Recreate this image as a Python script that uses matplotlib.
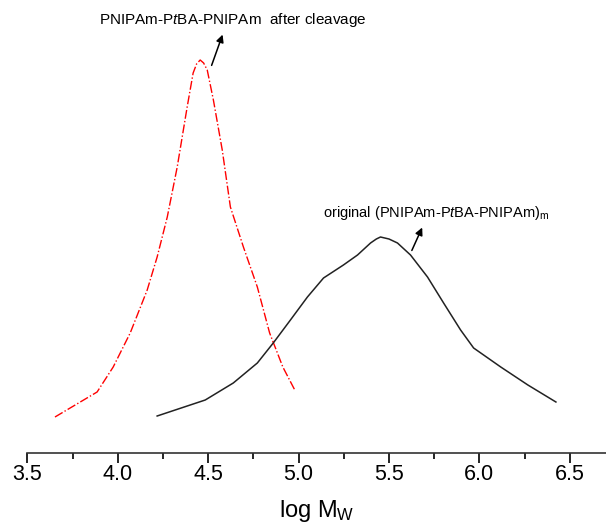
import matplotlib
matplotlib.use("Agg")
import matplotlib.pyplot as plt

plt.rcParams['font.family'] = 'Liberation Sans'
plt.rcParams['mathtext.fontset'] = 'custom'
plt.rcParams['mathtext.rm'] = 'Liberation Sans'
plt.rcParams['mathtext.it'] = 'Liberation Sans:italic'

# after cleavage (red dash-dot)
cleaved_x = [3.653, 3.886, 3.975, 4.069, 4.163, 4.218, 4.274, 4.329, 4.384, 4.417,
             4.436, 4.456, 4.475, 4.495, 4.529, 4.578, 4.623, 4.695, 4.772, 4.840,
             4.913, 4.979]
cleaved_y = [36, 61, 86, 120, 163, 196, 236, 286, 346, 380,
             389, 393, 390, 383, 353, 303, 246, 206, 166, 120,
             86, 63]

# original multiblock (black)
orig_x = [4.218, 4.484, 4.639, 4.772, 4.860, 4.955, 5.049, 5.138, 5.248, 5.326,
          5.398, 5.430, 5.453, 5.500, 5.547, 5.619, 5.713, 5.802, 5.896, 5.968,
          6.118, 6.268, 6.423]
orig_y = [37, 53, 70, 90, 110, 133, 156, 175, 188, 198,
          210, 214, 216, 214, 210, 198, 176, 150, 123, 105,
          86, 68, 51]

xticks = [3.5, 4.0, 4.5, 5.0, 5.5, 6.0, 6.5]

fig = plt.figure(figsize=(6.06, 5.31), dpi=100)
ax = fig.add_axes([27.3 / 606, 78 / 531, 1 - 27.3 / 606, 453 / 531])

ax.plot(cleaved_x, cleaved_y, color='red', linestyle='-.', linewidth=1.0)
ax.plot(orig_x, orig_y, color='#222222', linestyle='-', linewidth=1.1)

ax.set_xlim(3.5, 6.70)
ax.set_ylim(0, 453)
ax.set_xticks(xticks)
ax.set_xticklabels([f"{t:.1f}" for t in xticks])
ax.set_xticks([3.75, 4.25, 4.75, 5.25, 5.75, 6.25], minor=True)
ax.tick_params(axis='x', which='major', length=7, width=1.2, labelsize=15.5, pad=1)
ax.tick_params(axis='x', which='minor', length=4, width=1.2)
ax.set_yticks([])
for s in ['left', 'right', 'top']:
    ax.spines[s].set_visible(False)
ax.spines['bottom'].set_linewidth(1.2)
ax.spines['bottom'].set_color('#333333')

ax.set_xlabel(r'log M$_\mathrm{W}$', fontsize=17, labelpad=9)

arrow = dict(arrowstyle='-|>', color='black', lw=1.1, mutation_scale=11)
ax.annotate('', xy=(4.585, 421), xytext=(4.514, 385), arrowprops=arrow)
ax.text(3.894, 433, r'PNIPAm-P$\it{t}$BA-PNIPAm  after cleavage',
        fontsize=11, ha='left', va='center')

ax.annotate('', xy=(5.69, 228), xytext=(5.62, 200), arrowprops=arrow)
ax.text(5.137, 240, r'original (PNIPAm-P$\it{t}$BA-PNIPAm)$_\mathrm{m}$',
        fontsize=10.5, ha='left', va='center')

fig.savefig('out.png', dpi=100)
